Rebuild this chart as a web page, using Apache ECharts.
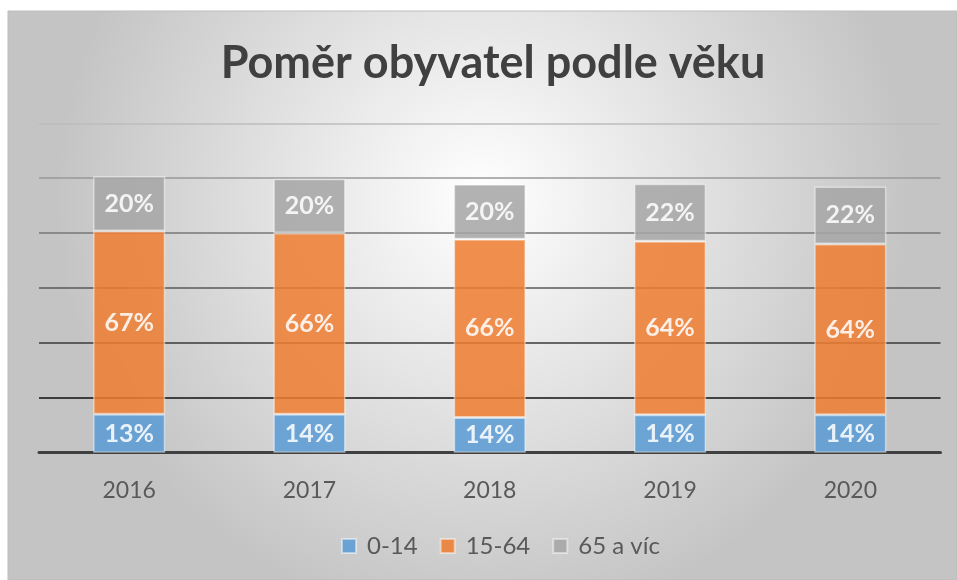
<!DOCTYPE html>
<html>
<head>
<meta charset="utf-8">
<script src="https://cdn.jsdelivr.net/npm/echarts@6/dist/echarts.min.js"></script>
<style>
html,body{margin:0;padding:0;background:#fff;}
#c{width:957px;height:580px;}
</style>
</head>
<body>
<div id="c"></div>
<script>
// Data
const years = ['2016', '2017', '2018', '2019', '2020'];
const seriesNames = ['0-14', '15-64', '65 a víc'];
const kids = [70, 70, 64, 69, 69];
const adults = [334, 330, 325, 316, 311];
const seniors = [100, 99, 100, 105, 105];
const kidsLabels = ['13%', '14%', '14%', '14%', '14%'];
const adultsLabels = ['67%', '66%', '66%', '64%', '64%'];
const seniorsLabels = ['20%', '20%', '20%', '22%', '22%'];

const FONT = 'Lato, "Open Sans", sans-serif';
const chart = echarts.init(document.getElementById('c'), null, {renderer: 'canvas'});

function labelCfg(arr) {
  return {
    show: true,
    position: 'inside',
    color: '#fff',
    fontFamily: FONT,
    fontWeight: 'bold',
    fontSize: 25,
    formatter: p => arr[p.dataIndex]
  };
}
function barSeries(name, data, color, labels) {
  return {
    name: name,
    type: 'bar',
    stack: 'total',
    barWidth: '40%',
    data: data,
    itemStyle: {color: color, opacity: 0.86, borderColor: 'rgba(255,255,255,0.55)', borderWidth: 1.5},
    label: labelCfg(labels),
    emphasis: {disabled: true}
  };
}

chart.setOption({
  animation: false,
  backgroundColor: '#ffffff',
  graphic: [{
    type: 'rect',
    z: -10,
    silent: true,
    shape: {x: 8, y: 11, width: 949, height: 569},
    style: {
      fill: {
        type: 'radial', x: 0.5, y: 0.33, r: 0.75,
        colorStops: [{offset: 0, color: '#ffffff'}, {offset: 1, color: '#c4c4c4'}]
      },
      stroke: '#bdbdbd', lineWidth: 1
    }
  }],
  title: {
    text: 'Poměr obyvatel podle věku',
    left: 488, top: 36, textAlign: 'center',
    textStyle: {fontFamily: FONT, fontWeight: 'bold', fontSize: 45, color: '#404040'}
  },
  legend: {
    data: seriesNames,
    bottom: 17,
    left: 336,
    itemWidth: 14, itemHeight: 14, itemGap: 22,
    icon: 'rect',
    textStyle: {fontFamily: FONT, fontSize: 24, color: '#595959', padding: [0, 0, 0, 6]}
  },
  grid: {left: 39, right: 16.5, top: 123.3, bottom: 127.3, containLabel: false},
  xAxis: {
    type: 'category',
    data: years,
    axisLine: {show: true, lineStyle: {color: '#404040', width: 3}},
    axisTick: {show: false},
    axisLabel: {fontFamily: FONT, fontSize: 23, color: '#595959', margin: 26}
  },
  yAxis: {
    type: 'value',
    min: 0, max: 600, interval: 100,
    axisLabel: {show: false},
    axisLine: {show: false},
    axisTick: {show: false},
    splitLine: {lineStyle: {color: ['#404040', '#111111', '#3a3a3a', '#585858', '#777777', '#999999', '#bdbdbd'], width: 1.5}}
  },
  series: [
    barSeries(seriesNames[0], kids, '#5b9bd5', kidsLabels),
    barSeries(seriesNames[1], adults, '#ed7d31', adultsLabels),
    barSeries(seriesNames[2], seniors, '#a5a5a5', seniorsLabels)
  ]
});
</script>
</body>
</html>
